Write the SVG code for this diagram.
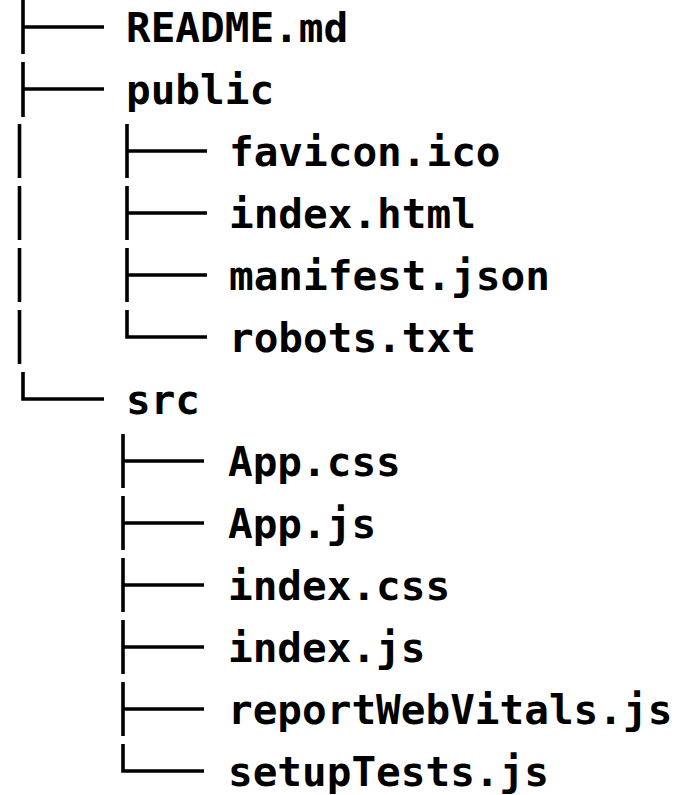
<svg xmlns="http://www.w3.org/2000/svg" width="687" height="795" viewBox="0 0 687 795">
<style>
.t{font-family:"DejaVu Sans Mono","Liberation Mono",monospace;font-weight:bold;font-size:41px;fill:#000}
.c{fill:none;stroke:#000;stroke-width:3.6;stroke-linecap:butt}
</style>
<rect width="687" height="795" fill="#fff"/>
<g id="connectors" class="c">
<path d="M23 0V54M23 27H104"/>
<path d="M23 62V117M23 89H104"/>
<path d="M19.5 124V178M19.5 186V240M19.5 248V302M19.5 310V364"/>
<path d="M23 372V399H104"/>
<path d="M127 124V178M127 151H207"/>
<path d="M127 186V240M127 213H207"/>
<path d="M127 248V302M127 275H207"/>
<path d="M127 310V337H207"/>
<path d="M123 434V488M123 461H204"/>
<path d="M123 496V550M123 523H204"/>
<path d="M123 558V612M123 585H204"/>
<path d="M123 620V674M123 647H204"/>
<path d="M123 682V736M123 709H204"/>
<path d="M123 744V771H204"/>
</g>
<g id="readme"><text class="t" x="126" y="42">README.md</text></g>
<g id="public"><text class="t" x="126" y="104">public</text></g>
<g id="favicon"><text class="t" x="229" y="166">favicon.ico</text></g>
<g id="index-html"><text class="t" x="229" y="228">index.html</text></g>
<g id="manifest"><text class="t" x="229" y="290">manifest.json</text></g>
<g id="robots"><text class="t" x="229" y="352">robots.txt</text></g>
<g id="src"><text class="t" x="126" y="414">src</text></g>
<g id="app-css"><text class="t" x="228" y="476">App.css</text></g>
<g id="app-js"><text class="t" x="228" y="538">App.js</text></g>
<g id="index-css"><text class="t" x="228" y="600">index.css</text></g>
<g id="index-js"><text class="t" x="228" y="662">index.js</text></g>
<g id="report"><text class="t" x="228" y="724">reportWebVitals.js</text></g>
<g id="setup"><text class="t" x="228" y="786">setupTests.js</text></g>
</svg>
